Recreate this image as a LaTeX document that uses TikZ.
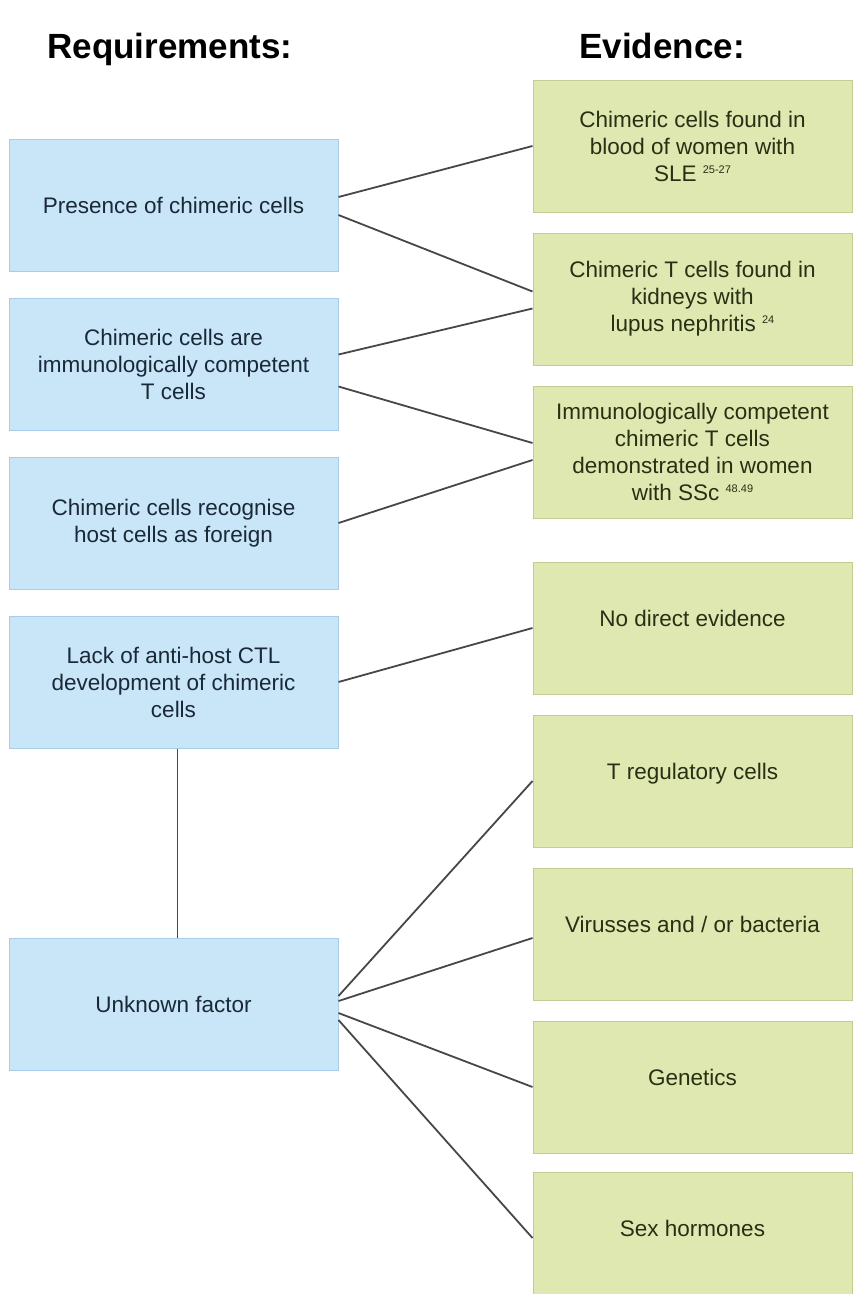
\documentclass[tikz,border=0pt]{standalone}
\usepackage{fontspec}
\setmainfont{Liberation Sans}
\usetikzlibrary{positioning}
\definecolor{reqfill}{HTML}{C8E6F8}
\definecolor{reqline}{HTML}{A9CDE6}
\definecolor{reqtext}{HTML}{1A2838}
\definecolor{evifill}{HTML}{E0E8B2}
\definecolor{eviline}{HTML}{C4CC93}
\definecolor{evitext}{HTML}{283014}
\definecolor{linkgray}{HTML}{474747}
\newcommand{\refnum}[1]{\raisebox{8pt}{\fontsize{11}{11}\selectfont #1}}

\begin{document}
\begin{tikzpicture}[x=1pt, y=-1pt, node distance=20pt,
  req/.style = {draw=reqline, fill=reqfill, line width=1pt, minimum width=329pt, minimum height=132pt, inner sep=0pt, align=center, text=reqtext, font=\fontsize{22.5}{27}\selectfont},
  evi/.style = {draw=eviline, fill=evifill, line width=1pt, minimum width=319pt, minimum height=132pt, inner sep=0pt, align=center, text=evitext, font=\fontsize{22.5}{27}\selectfont},
  one/.style = {text depth=20pt},
  head/.style = {anchor=base, font=\fontsize{35}{40}\selectfont\bfseries},
  link/.style = {draw=linkgray, line width=1.8pt}]
\useasboundingbox (0,0) rectangle (853,1294);

\node[head] (reqhead) at (170,58) {Requirements:};
\node[head] (evihead) at (662,58) {Evidence:};

\node[req] (l1) at (173.5,205) {Presence of chimeric cells};
\node[req] (l2) [below=26pt of l1] {Chimeric cells are\\immunologically competent\\T cells};
\node[req] (l3) [below=26pt of l2] {Chimeric cells recognise\\host cells as foreign};
\node[req] (l4) [below=26pt of l3] {Lack of anti-host CTL\\development of chimeric\\cells};
\node[req] (l5) [below=189pt of l4] {Unknown factor};

\node[evi] (r1) at (692.5,146) {Chimeric cells found in\\blood of women with\\SLE \refnum{25-27}};
\node[evi] (r2) [below=of r1] {Chimeric T cells found in\\kidneys with\\lupus nephritis \refnum{24}};
\node[evi] (r3) [below=of r2] {Immunologically competent\\chimeric T cells\\demonstrated in women\\with SSc \refnum{48.49}};
\node[evi, one] (r4) [below=43pt of r3] {No direct evidence};
\node[evi, one] (r5) [below=of r4] {T regulatory cells};
\node[evi, one] (r6) [below=of r5] {Virusses and / or bacteria};
\node[evi, one] (r7) [below=of r6] {Genetics};
\node[evi, one] (r8) [below=18pt of r7] {Sex hormones};

\draw[link] ([yshift=8pt]l1.east) -- (r1.west);
\draw[link] ([yshift=-10pt]l1.east) -- ([yshift=7.5pt]r2.west);
\draw[link] ([yshift=9.5pt]l2.east) -- ([yshift=-9.5pt]r2.west);
\draw[link] ([yshift=-22.5pt]l2.east) -- ([yshift=9pt]r3.west);
\draw[link] (l3.east) -- ([yshift=-8pt]r3.west);
\draw[link] (l4.east) -- (r4.west);
\draw[link] ([xshift=4pt]l4.south) -- ([xshift=4pt]l5.north);
\draw[link] ([yshift=8pt]l5.east) -- (r5.west);
\draw[link] ([yshift=3pt]l5.east) -- ([yshift=-4pt]r6.west);
\draw[link] ([yshift=-9pt]l5.east) -- (r7.west);
\draw[link] ([yshift=-16pt]l5.east) -- (r8.west);

\end{tikzpicture}
\end{document}
